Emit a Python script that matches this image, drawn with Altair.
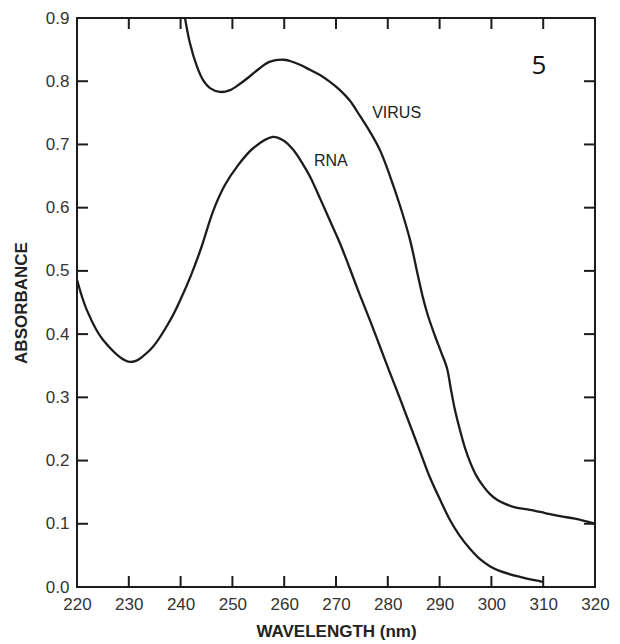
import altair as alt
import pandas as pd

# Virus spectrum (wavelength nm, absorbance)
virus_wl = [240.85, 241.81, 243.17, 244.32, 245.68, 247.61, 249.54, 251.47, 253.40, 255.33,
            257.26, 259.77, 261.12, 263.05, 264.98, 266.91, 268.84, 270.77, 272.70, 274.63,
            276.56, 278.49, 280.42, 282.36, 284.29, 285.83, 286.80, 287.76, 289.11, 290.27,
            291.43, 292.20, 292.97, 293.94, 294.90, 295.87, 297.03, 298.38, 299.73, 301.08,
            302.24, 304.56, 307.45, 310.35, 313.24, 316.14, 320.00]
virus_abs = [0.900, 0.860, 0.823, 0.802, 0.789, 0.783, 0.786, 0.796, 0.808, 0.821,
             0.831, 0.834, 0.832, 0.826, 0.818, 0.810, 0.799, 0.786, 0.769, 0.745,
             0.720, 0.691, 0.650, 0.603, 0.549, 0.492, 0.457, 0.429, 0.397, 0.372,
             0.346, 0.312, 0.280, 0.248, 0.220, 0.198, 0.177, 0.160, 0.147, 0.138,
             0.133, 0.126, 0.122, 0.117, 0.112, 0.108, 0.100]

# RNA spectrum
rna_wl = [220.0, 221.9, 225.0, 230.2, 234.1, 238.0, 240.0, 242.0, 244.0, 246.3, 248.5, 250.9,
          254.0, 257.8, 259.7, 261.7, 263.6, 265.0, 266.9, 268.8, 270.8, 272.7, 274.6, 276.6,
          278.5, 280.4, 282.4, 284.3, 286.2, 288.1, 290.1, 292.0, 293.9, 295.9, 297.8, 299.7,
          301.7, 305.5, 309.4, 310.0]
rna_abs = [0.486, 0.438, 0.391, 0.356, 0.375, 0.422, 0.455, 0.493, 0.537, 0.595, 0.635, 0.665,
           0.694, 0.712, 0.707, 0.692, 0.669, 0.649, 0.615, 0.580, 0.543, 0.503, 0.462, 0.421,
           0.380, 0.339, 0.297, 0.256, 0.215, 0.174, 0.138, 0.106, 0.081, 0.060, 0.044, 0.033,
           0.025, 0.016, 0.009, 0.008]

x_ticks = [230, 240, 250, 260, 270, 280, 290, 300, 310]
y_ticks = [0.1, 0.2, 0.3, 0.4, 0.5, 0.6, 0.7, 0.8]
x_labels = [220, 230, 240, 250, 260, 270, 280, 290, 300, 310, 320]
y_labels = [0.0, 0.1, 0.2, 0.3, 0.4, 0.5, 0.6, 0.7, 0.8, 0.9]

labels = ["VIRUS", "RNA"]
label_wl = [281.7, 269.0]
label_abs = [0.750, 0.674]

panel_label = ["5"]
panel_wl = [309.2]
panel_abs = [0.824]

W, H = 518, 569
INK = "#1c1c1c"

lines_df = pd.concat([
    pd.DataFrame({"wl": virus_wl, "abs": virus_abs, "sample": "VIRUS"}),
    pd.DataFrame({"wl": rna_wl, "abs": rna_abs, "sample": "RNA"}),
])

xs = alt.Scale(domain=[220, 320], nice=False, zero=False)
ys = alt.Scale(domain=[0, 0.9], nice=False, zero=False)

lines = alt.Chart(lines_df).mark_line(
    color=INK, strokeWidth=2.3, interpolate="catmull-rom", clip=True
).encode(
    x=alt.X("wl:Q", scale=xs, axis=alt.Axis(
        title="WAVELENGTH (nm)", values=x_labels, format="d", labelFlush=False,
        labelOverlap=False, ticks=False, domain=False, grid=False, labelFontSize=17,
        labelColor="#333333", labelFont="Liberation Sans", labelPadding=9,
        titleFont="Liberation Sans", titleFontSize=17, titleFontWeight="bold",
        titleColor="#222222", titleY=36, titleBaseline="top")),
    y=alt.Y("abs:Q", scale=ys, axis=alt.Axis(
        title="ABSORBANCE", values=y_labels, format=".1f", labelOverlap=False,
        ticks=False, domain=False, grid=False, labelFontSize=17, labelColor="#333333",
        labelFont="Liberation Sans", labelPadding=8,
        titleFont="Liberation Sans", titleFontSize=17, titleFontWeight="bold",
        titleColor="#222222", titleX=-56, titleBaseline="middle")),
    detail="sample:N",
)

xt = pd.DataFrame({"wl": x_ticks})
yt = pd.DataFrame({"abs": y_ticks})

tick_style = dict(color=INK, strokeWidth=2)
bottom_ticks = alt.Chart(xt).mark_rule(**tick_style).encode(
    x=alt.X("wl:Q", scale=xs), y=alt.value(H), y2=alt.value(H - 11))
top_ticks = alt.Chart(xt).mark_rule(**tick_style).encode(
    x=alt.X("wl:Q", scale=xs), y=alt.value(0), y2=alt.value(11))
left_ticks = alt.Chart(yt).mark_rule(**tick_style).encode(
    y=alt.Y("abs:Q", scale=ys), x=alt.value(0), x2=alt.value(11))
right_ticks = alt.Chart(yt).mark_rule(**tick_style).encode(
    y=alt.Y("abs:Q", scale=ys), x=alt.value(W), x2=alt.value(W - 11))

lab_df = pd.DataFrame({"wl": label_wl, "abs": label_abs, "txt": labels})
curve_labels = alt.Chart(lab_df).mark_text(
    font="Liberation Sans", fontSize=16, color="#222222", align="center", baseline="middle"
).encode(
    x=alt.X("wl:Q", scale=xs), y=alt.Y("abs:Q", scale=ys), text="txt:N")

pan_df = pd.DataFrame({"wl": panel_wl, "abs": panel_abs, "txt": panel_label})
panel = alt.Chart(pan_df).mark_text(
    font="Open Sans", fontSize=26, color="#111111", align="center", baseline="middle"
).encode(
    x=alt.X("wl:Q", scale=xs), y=alt.Y("abs:Q", scale=ys), text="txt:N")

chart = alt.layer(
    lines, bottom_ticks, top_ticks, left_ticks, right_ticks, curve_labels, panel
).properties(
    width=W, height=H,
    autosize=alt.AutoSizeParams(type="none"),
    padding={"left": 69, "top": 10, "right": 17, "bottom": 55},
    background="white",
).configure_view(stroke=INK, strokeWidth=2)

chart.save("out.html", embed_options={"renderer": "svg", "actions": False})
